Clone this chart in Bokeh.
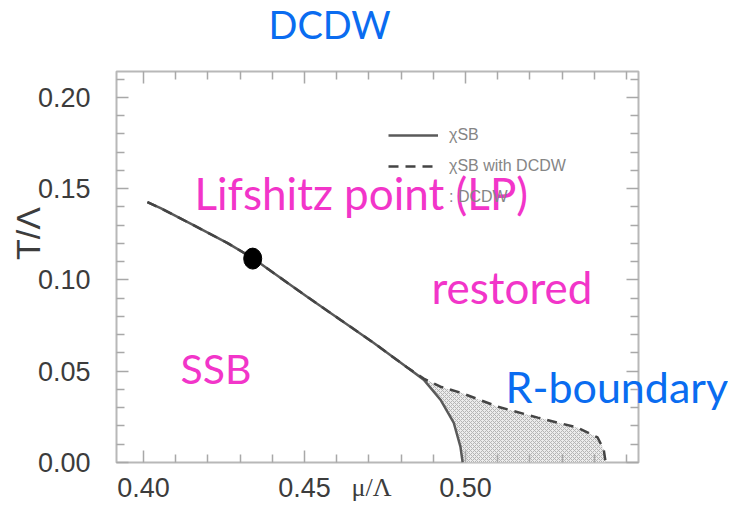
from math import pi
from bokeh.plotting import figure
from bokeh.models import (LinearAxis, FixedTicker, Legend, LegendItem, Range1d,
                          CustomJSTickFormatter, ColumnDataSource, Label)
from bokeh.core.properties import value
from bokeh.embed import file_html
from bokeh.resources import INLINE

# ---- data ----
mu_solid = [0.4012, 0.4053, 0.4155, 0.4261, 0.4339, 0.4404, 0.4509, 0.4612, 0.4714,
            0.4820, 0.4870, 0.4922, 0.4963, 0.4984, 0.4991]
T_solid = [0.1426, 0.1393, 0.1300, 0.1202, 0.1120, 0.1038, 0.0907, 0.0781, 0.0656,
           0.0519, 0.0454, 0.0344, 0.0219, 0.0087, 0.0000]

mu_dcdw = [0.4012, 0.4053, 0.4155, 0.4261, 0.4339, 0.4404, 0.4509, 0.4612, 0.4714,
           0.4820, 0.4870, 0.4922, 0.4984, 0.5100, 0.5224, 0.5348, 0.5410, 0.5429, 0.5435]
T_dcdw = [0.1426, 0.1393, 0.1300, 0.1202, 0.1120, 0.1038, 0.0907, 0.0781, 0.0656,
          0.0519, 0.0460, 0.0415, 0.0383, 0.0306, 0.0246, 0.0191, 0.0137, 0.0071, 0.0000]

split = 10  # index where the two boundaries part
mu_lp = [0.4339]
T_lp = [0.1117]

x_ticks = [0.40, 0.45, 0.50]
x_minor = [0.39, 0.41, 0.42, 0.43, 0.44, 0.46, 0.47, 0.48, 0.49, 0.51, 0.52, 0.53, 0.54, 0.55]
y_ticks = [0.00, 0.05, 0.10, 0.15, 0.20]
y_minor = [0.01, 0.02, 0.03, 0.04, 0.06, 0.07, 0.08, 0.09, 0.11, 0.12, 0.13, 0.14,
           0.16, 0.17, 0.18, 0.19, 0.21]

# overlay annotation texts (outside / across the frame edge)
note_text = ["DCDW", "restored", "SSB", "R-boundary"]
note_x = [0.4388, 0.4894, 0.4115, 0.5124]
note_y = [0.2400, 0.0959, 0.0515, 0.0417]
note_color = ["#0a6cf0", "#f235c9", "#f235c9", "#0a6cf0"]
note_size = ["38px", "44px", "41px", "43px"]

p = figure(width=728, height=503, output_backend="svg", toolbar_location=None,
           x_range=Range1d(0.3916, 0.5537), y_range=Range1d(0.0, 0.2142),
           min_border_left=116, min_border_right=90, min_border_top=71, min_border_bottom=41)
p.grid.visible = False
p.outline_line_color = "#b8b8b8"
p.outline_line_width = 2
p.background_fill_color = "white"
p.border_fill_color = "white"

# hatched DCDW region
px = mu_dcdw[split:] + mu_solid[split:][::-1]
py = T_dcdw[split:] + T_solid[split:][::-1]
reg = p.patch(px, py, fill_color="#ececec", line_color=None,
              hatch_pattern="diagonal_cross", hatch_color="#b4b4b4", hatch_scale=4, hatch_weight=1)
# lighter stand-in used only for the legend swatch (the label text shows through it)
reg_key = p.patch(x=[], y=[], fill_color="#dcdcdc", fill_alpha=0.6, line_color=None,
                  hatch_pattern="diagonal_cross", hatch_color="#a0a0a0", hatch_alpha=0.65,
                  hatch_scale=4, hatch_weight=1)

solid = p.line(mu_solid, T_solid, line_color="#5a5a5a", line_width=2.5)
dash = p.line(mu_dcdw, T_dcdw, line_color="#444444", line_width=2.5, line_dash="10 7")
p.ellipse(mu_lp, T_lp, width=18, height=21, width_units="screen", height_units="screen",
          fill_color="black", line_color="black")

# axes
def style_axis(ax, major, minor, labels=True):
    ax.ticker = FixedTicker(ticks=major, minor_ticks=minor)
    ax.major_tick_in = 12
    ax.major_tick_out = 0
    ax.minor_tick_in = 8
    ax.minor_tick_out = 0
    ax.major_tick_line_color = "#a8a8a8"
    ax.minor_tick_line_color = "#a8a8a8"
    ax.major_tick_line_width = 1.5
    ax.minor_tick_line_width = 1.5
    ax.axis_line_color = None
    ax.major_label_text_font = "Liberation Sans"
    ax.major_label_text_font_size = "27px"
    ax.major_label_text_color = "#3c3c3c"
    ax.major_label_text_line_height = 1.0
    if labels:
        ax.formatter = CustomJSTickFormatter(code="return tick.toFixed(2)")
    else:
        ax.formatter = CustomJSTickFormatter(code="return ''")

style_axis(p.xaxis[0], x_ticks, x_minor)
style_axis(p.yaxis[0], y_ticks, y_minor)
p.xaxis[0].major_label_standoff = 15
p.yaxis[0].major_label_standoff = 26

top = LinearAxis()
style_axis(top, x_ticks, x_minor, labels=False)
p.add_layout(top, "above")
right = LinearAxis()
style_axis(right, y_ticks, y_minor, labels=False)
p.add_layout(right, "right")

# axis titles (drawn as overlay text so they are not clipped by the frame)
p.text(x=[0.3640], y=[0.1254], text=["T/Λ"], angle=pi / 2, text_align="center",
       text_baseline="middle", text_font=value("Liberation Sans"),
       text_font_size="34px", text_color="#3c3c3c", level="overlay")
p.text(x=[0.4708], y=[-0.0060], text=["μ/Λ"], text_align="center",
       text_baseline="top", text_font=value("Liberation Serif"),
       text_font_size="26px", text_color="#3c3c3c", level="overlay")

# legend
legend = Legend(items=[LegendItem(label="χSB", renderers=[solid]),
                       LegendItem(label="χSB with DCDW", renderers=[dash]),
                       LegendItem(label=": DCDW", renderers=[reg_key])],
                location=(272, 255), border_line_color=None, background_fill_alpha=0,
                padding=0, margin=0, spacing=11, glyph_width=50, glyph_height=20,
                label_height=20, label_standoff=11, label_text_font="Liberation Sans",
                label_text_font_size="16px", label_text_color="#858585")
p.add_layout(legend)

# "Lifshitz point (LP)" lies inside the frame, over the legend
p.add_layout(Label(x=0.4158, y=0.1474, text="Lifshitz point (LP)", text_color="#f235c9",
                   text_font="Lato", text_font_size="44px", text_align="left",
                   text_baseline="alphabetic", level="overlay"))

# overlay annotations
notes = ColumnDataSource(dict(x=note_x, y=note_y, text=note_text,
                              color=note_color, size=note_size))
p.text(x="x", y="y", text="text", text_color="color", text_font_size="size",
       text_font=value("Lato"), text_align="left", text_baseline="alphabetic",
       level="overlay", source=notes)

open("out.html", "w").write(file_html(p, INLINE))
